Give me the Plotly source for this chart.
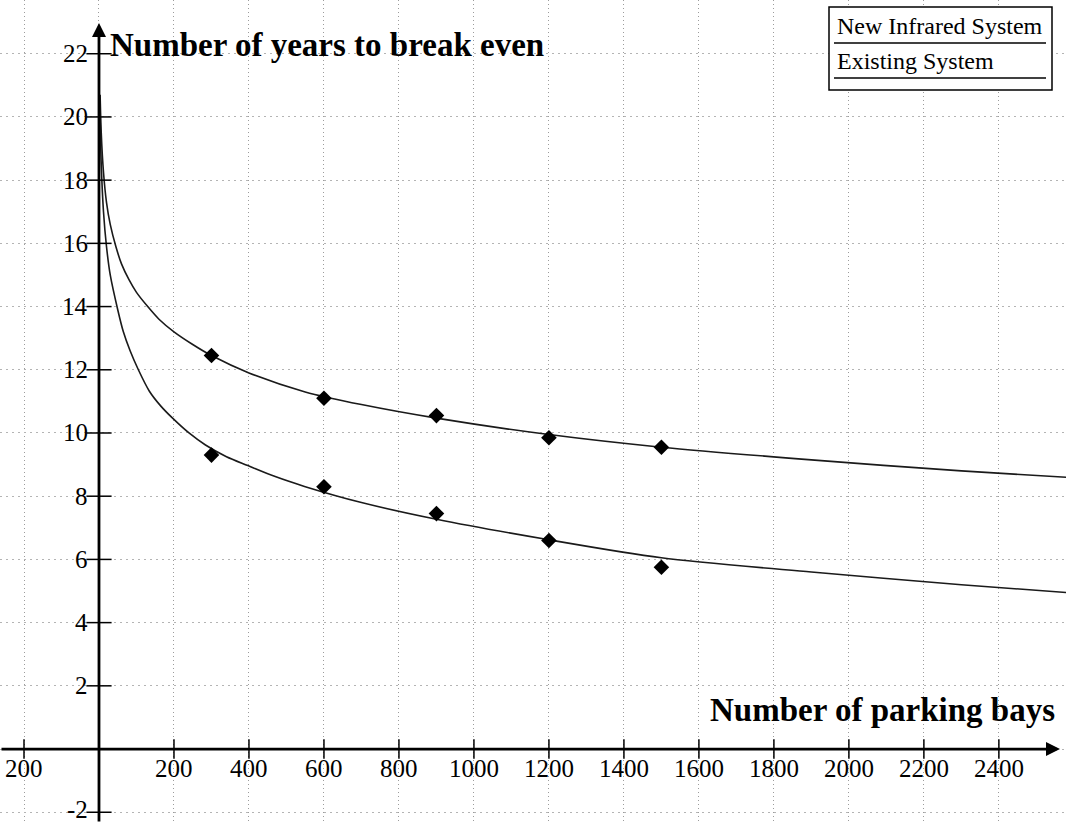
import plotly.graph_objects as go

# ---------------- data ----------------
bays = [300, 600, 900, 1200, 1500]
infrared_years = [12.45, 11.1, 10.55, 9.85, 9.55]
existing_years = [9.3, 8.3, 7.45, 6.6, 5.75]

infrared_curve_x = [3, 6, 12, 20, 30, 45, 60, 80, 100, 130, 160, 200, 250, 300, 400, 550, 700,
                    900, 1200, 1500, 1900, 2300, 2580]
infrared_curve_y = [20.7, 19.5, 18.25, 17.3, 16.6, 15.9, 15.35, 14.85, 14.45, 14.0, 13.6, 13.2, 12.8,
                    12.45, 11.9, 11.3, 10.9, 10.47, 9.95, 9.55, 9.15, 8.8, 8.6]

existing_curve_x = [3, 6, 12, 20, 30, 50, 65, 83, 105, 134, 165, 197, 240, 284, 340, 397, 470, 548,
                    700, 900, 1200, 1500, 1900, 2300, 2580]
existing_curve_y = [20.0, 18.5, 17.0, 15.9, 15.0, 13.9, 13.2, 12.6, 12.0, 11.33, 10.85, 10.46, 10.0,
                    9.62, 9.25, 8.97, 8.62, 8.31, 7.8, 7.27, 6.62, 6.05, 5.6, 5.2, 4.95]

x_tick_vals = [-200, 200, 400, 600, 800, 1000, 1200, 1400, 1600, 1800, 2000, 2200, 2400]
x_tick_text = ["200", "200", "400", "600", "800", "1000", "1200", "1400", "1600", "1800", "2000", "2200", "2400"]
y_tick_vals = [-2, 2, 4, 6, 8, 10, 12, 14, 16, 18, 20, 22]
y_tick_text = ["-2", "2", "4", "6", "8", "10", "12", "14", "16", "18", "20", "22"]

legend_labels = ["New Infrared System", "Existing System"]
x_title = "Number of parking bays"
y_title = "Number of years to break even"

X_RANGE = [-264, 2579]
Y_RANGE = [-2.34, 23.70]
SERIF = "Liberation Serif, Times New Roman, serif"

fig = go.Figure()

# fitted curves
for cx, cy, name in [(infrared_curve_x, infrared_curve_y, legend_labels[0]),
                     (existing_curve_x, existing_curve_y, legend_labels[1])]:
    fig.add_trace(go.Scatter(x=cx, y=cy, mode="lines", name=name,
                             line=dict(color="#1a1a1a", width=1.6, shape="spline", smoothing=0.8),
                             showlegend=False, hoverinfo="skip"))

# data points
for yy, name in [(infrared_years, legend_labels[0]), (existing_years, legend_labels[1])]:
    fig.add_trace(go.Scatter(x=bays, y=yy, mode="markers", name=name,
                             marker=dict(symbol="diamond", size=12, color="black"),
                             showlegend=False))

# tick marks on the axes drawn at zero
fig.add_trace(go.Scatter(x=x_tick_vals, y=[0] * len(x_tick_vals), mode="markers",
                         marker=dict(symbol="line-ns", size=14, line=dict(color="black", width=1.5)),
                         showlegend=False, hoverinfo="skip"))
fig.add_trace(go.Scatter(x=[0] * len(y_tick_vals), y=y_tick_vals, mode="markers",
                         marker=dict(symbol="line-ew", size=18, line=dict(color="black", width=1.5)),
                         showlegend=False, hoverinfo="skip"))

annotations = []
# x tick labels
for v, t in zip(x_tick_vals, x_tick_text):
    annotations.append(dict(x=v, y=0, xref="x", yref="y", text=t, showarrow=False,
                            xanchor="center", yanchor="top", yshift=-4,
                            font=dict(family=SERIF, size=25, color="black")))
# y tick labels
for v, t in zip(y_tick_vals, y_tick_text):
    annotations.append(dict(x=0, y=v, xref="x", yref="y", text=t, showarrow=False,
                            xanchor="right", yanchor="middle", xshift=-9,
                            yshift=3 if v < 0 else 0,
                            font=dict(family=SERIF, size=25, color="black")))

# axis lines with arrows
annotations.append(dict(x=2563, y=0, ax=X_RANGE[0], ay=0, xref="x", yref="y", axref="x", ayref="y",
                        text="", showarrow=True, arrowhead=2, arrowsize=1, arrowwidth=2.8,
                        arrowcolor="black", standoff=0, startstandoff=0))
annotations.append(dict(x=0, y=22.97, ax=0, ay=Y_RANGE[0], xref="x", yref="y", axref="x", ayref="y",
                        text="", showarrow=True, arrowhead=2, arrowsize=1, arrowwidth=2.8,
                        arrowcolor="black", standoff=0, startstandoff=0))

# axis titles
annotations.append(dict(x=108 / 1066, y=1 - 45 / 823, xref="paper", yref="paper", text=y_title,
                        showarrow=False, xanchor="left", yanchor="middle",
                        font=dict(family=SERIF, size=33, color="black", weight="bold")))
annotations.append(dict(x=1057 / 1066, y=1 - 710 / 823, xref="paper", yref="paper", text=x_title,
                        showarrow=False, xanchor="right", yanchor="middle",
                        font=dict(family=SERIF, size=33, color="black", weight="bold")))

# legend (boxed, underlined entries)
annotations.append(dict(x=835 / 1066, y=1 - 26 / 823, xref="paper", yref="paper", text=legend_labels[0],
                        showarrow=False, xanchor="left", yanchor="middle",
                        font=dict(family=SERIF, size=24, color="black")))
annotations.append(dict(x=835 / 1066, y=1 - 61 / 823, xref="paper", yref="paper", text=legend_labels[1],
                        showarrow=False, xanchor="left", yanchor="middle",
                        font=dict(family=SERIF, size=24, color="black")))

shapes = [
    dict(type="rect", xref="paper", yref="paper", x0=829 / 1066, x1=1052 / 1066,
         y0=1 - 90 / 823, y1=1 - 7 / 823, line=dict(color="black", width=1.5), fillcolor="white", layer="above"),
    dict(type="line", xref="paper", yref="paper", x0=834 / 1066, x1=1046 / 1066,
         y0=1 - 43 / 823, y1=1 - 43 / 823, line=dict(color="black", width=1.3)),
    dict(type="line", xref="paper", yref="paper", x0=834 / 1066, x1=1046 / 1066,
         y0=1 - 78 / 823, y1=1 - 78 / 823, line=dict(color="black", width=1.3)),
]

fig.update_layout(
    width=1066, height=823,
    margin=dict(l=0, r=0, t=0, b=0),
    paper_bgcolor="white", plot_bgcolor="white",
    annotations=annotations, shapes=shapes,
    xaxis=dict(range=X_RANGE, tick0=0, dtick=200, showgrid=True, gridcolor="#9c9c9c",
               griddash="1px,3px", gridwidth=1, zeroline=False, showticklabels=False,
               ticks="", showline=False, fixedrange=True),
    yaxis=dict(range=Y_RANGE, tick0=0, dtick=2, showgrid=True, gridcolor="#b4b4b4",
               griddash="2px,4px", gridwidth=1, zeroline=False, showticklabels=False,
               ticks="", showline=False, fixedrange=True),
)

fig.write_html("out.html", config={"displayModeBar": False},
               post_script="document.body.style.margin='0';")
